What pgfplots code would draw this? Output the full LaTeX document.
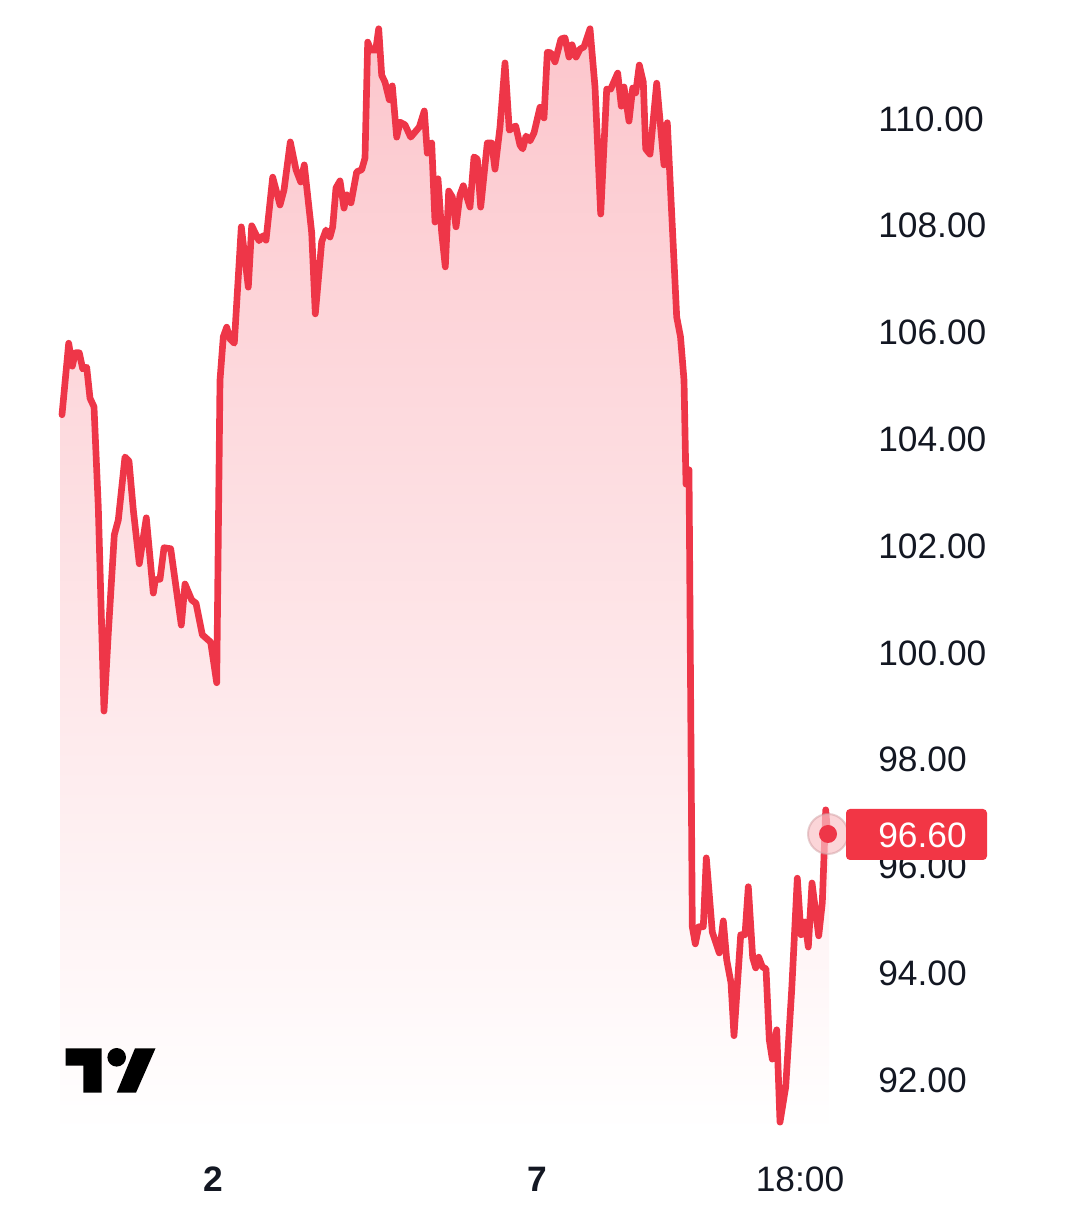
\documentclass[border=0pt]{standalone}
\usepackage{pgfplots}
\pgfplotsset{compat=1.18}
\usepackage{pgfplotstable}
\usepackage{fontspec}
\setmainfont{Liberation Sans}
\definecolor{tvred}{HTML}{EE3648}
\definecolor{tvtag}{HTML}{F23645}
\definecolor{tvtext}{HTML}{131722}
\definecolor{tvtop}{HTML}{FCC6CC}
\pgfplotstableread{
x y
62 104.46
68.7 105.80
72.3 105.37
75.3 105.62
79.3 105.62
82.7 105.32
86.7 105.35
90 104.77
94 104.61
98.3 102.73
104 98.91
108.3 100.37
114.3 102.21
118.3 102.49
125 103.67
129 103.59
133.3 102.68
139.3 101.67
146.3 102.53
153.3 101.12
155.3 101.37
160 101.38
164 101.97
170.7 101.95
181.3 100.52
185 101.29
191.7 100.99
196 100.93
202.3 100.34
210.7 100.20
216.7 99.44
220 105.11
223.3 105.92
226.7 106.10
230 105.88
234.3 105.80
241.3 107.98
248.3 106.85
251.7 108.00
259 107.72
262.7 107.81
266 107.73
272.7 108.91
280 108.39
284 108.67
290.3 109.57
296 109.05
300.7 108.82
304.3 109.14
311.7 107.87
315.3 106.35
321.7 107.70
326 107.92
330 107.79
332.7 107.98
336 108.71
340 108.84
344 108.33
346.7 108.58
351 108.43
356.7 109.01
361.7 109.05
365 109.27
367.7 111.44
370.7 111.29
375.7 111.29
378.7 111.69
381.7 110.82
385 110.69
389.3 110.36
392.3 110.62
396.7 109.66
400 109.94
405 109.89
410.7 109.66
419.3 109.85
424.3 110.15
427.3 109.36
431.7 109.55
435 108.07
438 108.88
441.7 107.87
445.3 107.23
448.7 108.65
452.3 108.54
456 107.98
460 108.58
463.3 108.75
470 108.35
474 109.29
477.3 109.25
480.7 108.35
487.3 109.55
491.7 109.55
495 109.06
500 109.85
505 111.05
509.3 109.79
515.7 109.87
520 109.51
522.7 109.44
526 109.68
530 109.59
534 109.74
540 110.22
544 110.02
547.3 111.25
550.7 111.24
555 111.07
561 111.50
565 111.52
569 111.16
572 111.39
576 111.16
580 111.31
584 111.35
590 111.69
595 110.60
600.7 108.22
606.7 110.56
610.7 110.56
617.7 110.86
621.3 110.24
624 110.60
629 109.96
632.7 110.58
635.7 110.49
639.3 111.01
643.3 110.69
645.7 109.44
650 109.34
656.7 110.67
664 109.14
667.3 109.93
676.7 106.29
680.5 105.92
684 105.11
686 103.16
689 103.43
692.3 94.87
695.3 94.55
698.7 94.87
703.3 94.87
706.3 96.16
712.3 94.77
719.3 94.38
723.3 94.98
726.7 94.25
731 93.82
734 92.83
740.7 94.72
745 94.72
748.3 95.62
752.7 94.29
755.7 94.10
758.7 94.30
762.3 94.12
766 94.08
769.3 92.75
772.3 92.39
776.7 92.94
780 91.21
785.7 91.87
791.7 93.69
797.3 95.78
801 94.72
805 94.96
808.3 94.49
812 95.69
818.7 94.70
822.3 95.32
825.7 97.06
827.7 96.60
}\pricedata
\begin{document}
\begin{tikzpicture}
\begin{axis}[
  at={(0,0)},anchor=south west,
  scale only axis,
  width=645pt,height=849.75pt,
  xmin=0,xmax=860,
  ymin=91.007,ymax=112.229,
  axis line style={draw=none},
  major tick length=0pt,
  tick style={draw=none},
  xtick={213,537,800},
  xticklabels={\textbf{2},\textbf{7},18:00},
  xticklabel style={font=\fontsize{26.5}{30}\selectfont,text=tvtext,inner sep=0pt,anchor=base,yshift=-43.8pt},
  ytick={92,94,96,98,100,102,104,106,108,110},
  ymajorticks=true,
  yticklabel pos=right,
  yticklabel style={font=\fontsize{26.5}{30}\selectfont,text=tvtext,inner sep=0pt,anchor=west,xshift=13.5pt,
    /pgf/number format/fixed,/pgf/number format/fixed zerofill,/pgf/number format/precision=2,
    /pgf/number format/assume math mode=true},
  clip=false,
]
\addplot[draw=none,top color=tvtop,bottom color=white,forget plot]
  table[x=x,y=y]{\pricedata} -- (axis cs:829,96.60) -- (axis cs:829,91.007) -- (axis cs:60,91.007) -- (axis cs:60,104.46) -- cycle;
\addplot[tvred,line width=5pt,line join=round,line cap=round,forget plot] table[x=x,y=y]{\pricedata};
\end{axis}
\begin{scope}[x=0.75pt,y=-0.75pt,shift={(0pt,849.75pt)}]
  \path[use as bounding box] (0,0) rectangle (1080,1231);
  \fill[tvred!30,fill opacity=0.7] (828,834) circle (20);
  \draw[tvred!45!gray!60,line width=1.5pt,opacity=.5] (828,834) circle (20);
  \fill[tvred] (828,834) circle (9);
  \fill[tvtag,rounded corners=3pt] (846,809) rectangle (987,860);
  \node[anchor=west,inner sep=0pt,text=white,font=\fontsize{26.5}{30}\selectfont] at (878,835) {96.60};
  \fill[black] (65.7,1048.3) -- (101.7,1048.3) -- (101.7,1092.7) -- (83.3,1092.7) -- (83.3,1065.7) -- (65.7,1065.7) -- cycle;
  \fill[black] (116.7,1057.3) circle (9.3);
  \fill[black] (135,1048.3) -- (155.5,1048.3) -- (136,1092.7) -- (116.7,1092.7) -- cycle;
\end{scope}
\end{tikzpicture}
\end{document}
